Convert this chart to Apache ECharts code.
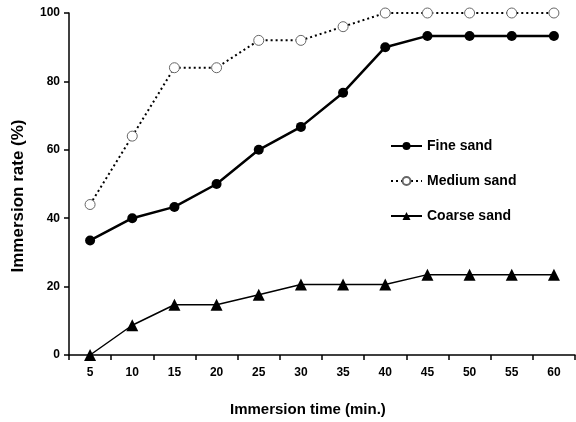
<!DOCTYPE html>
<html><head><meta charset="utf-8">
<script src="https://cdn.jsdelivr.net/npm/echarts@6/dist/echarts.min.js"></script>
<style>html,body{margin:0;padding:0;background:#fff}#c{width:576px;height:422px}</style>
</head><body><div id="c"></div>
<script>
const categories = ['5','10','15','20','25','30','35','40','45','50','55','60'];
const fineSand = [33.5, 40, 43.3, 50, 60, 66.7, 76.7, 90, 93.3, 93.3, 93.3, 93.3];
const mediumSand = [44, 64, 84, 84, 92, 92, 96, 100, 100, 100, 100, 100];
const coarseSand = [0, 8.7, 14.7, 14.7, 17.6, 20.6, 20.6, 20.6, 23.5, 23.5, 23.5, 23.5];
const yTicks = [0, 20, 40, 60, 80, 100];
const xTitle = 'Immersion time (min.)';
const yTitle = 'Immersion rate (%)';

const font = 'Liberation Sans';
const chart = echarts.init(document.getElementById('c'));
chart.setOption({
  animation: false,
  grid: {left: 69, top: 13, right: 1, bottom: 67},
  legend: {
    orient: 'vertical', left: 385, top: 134, itemWidth: 31, itemHeight: 10, itemGap: 21,
    textStyle: {fontFamily: font, fontWeight: 'bold', fontSize: 14, color: '#000'},
    data: ['Fine sand', 'Medium sand', 'Coarse sand']
  },
  graphic: [
    {type: 'text', left: 230, top: 402,
     style: {text: xTitle, fontFamily: font, fontWeight: 'bold', fontSize: 15, fill: '#000'}},
    {type: 'text', x: 18, y: 196, rotation: Math.PI / 2,
     style: {text: yTitle, fontFamily: font, fontWeight: 'bold', fontSize: 17, fill: '#000',
             align: 'center', verticalAlign: 'middle'}}
  ],
  xAxis: {
    type: 'category', data: categories, boundaryGap: true,
    axisLine: {lineStyle: {color: '#000', width: 1.5}},
    axisTick: {show: true, length: 5, lineStyle: {color: '#000', width: 1.5}},
    axisLabel: {fontFamily: font, fontWeight: 'bold', fontSize: 12, color: '#000', margin: 12}
  },
  yAxis: {
    type: 'value', min: yTicks[0], max: yTicks[yTicks.length-1], interval: 20,
    axisLine: {show: true, lineStyle: {color: '#000', width: 1.5}},
    axisTick: {show: true, length: 5, lineStyle: {color: '#000', width: 1.5}},
    splitLine: {show: false},
    axisLabel: {fontFamily: font, fontWeight: 'bold', fontSize: 12, color: '#000', margin: 9}
  },
  series: [
    {name: 'Fine sand', type: 'line', data: fineSand, symbol: 'circle', symbolSize: 10,
     lineStyle: {color: '#000', width: 2.5}, itemStyle: {color: '#000'}},
    {name: 'Medium sand', type: 'line', data: mediumSand, symbol: 'circle', symbolSize: 10,
     lineStyle: {color: '#000', width: 2, type: [2, 3]},
     itemStyle: {color: '#fff', borderColor: '#666', borderWidth: 1}},
    {name: 'Coarse sand', type: 'line', data: coarseSand, symbol: 'triangle', symbolSize: 12,
     lineStyle: {color: '#000', width: 1.5}, itemStyle: {color: '#000'}}
  ]
});
</script></body></html>
